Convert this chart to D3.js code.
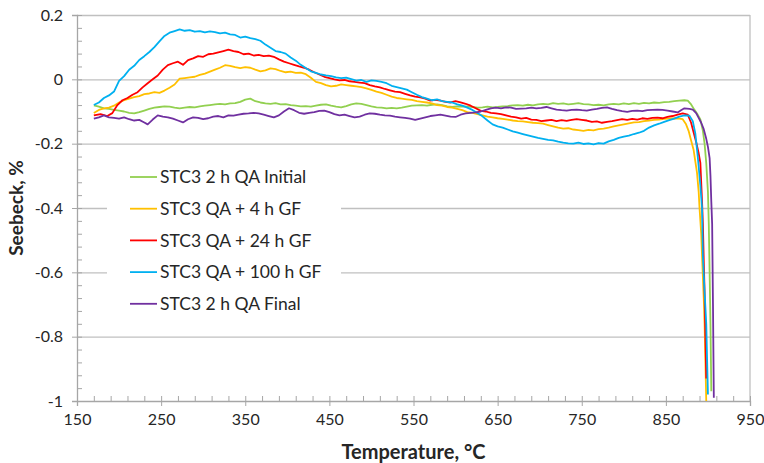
<!DOCTYPE html>
<html>
<head>
<meta charset="utf-8">
<script src="https://cdn.jsdelivr.net/npm/d3@7"></script>
<style>
  body { margin: 0; background: #fff; }
  text { font-family: Lato, "Open Sans", sans-serif; fill: #262626; }
</style>
</head>
<body>
<div id="chart"></div>
<script>
// Series names, colours and [temperature, seebeck] readings
const seriesNames = ["STC3 2 h QA Initial", "STC3 QA + 4 h GF", "STC3 QA + 24 h GF", "STC3 QA + 100 h GF", "STC3 2 h QA Final"];
const seriesColors = ["#92d050", "#ffc000", "#ff0000", "#00b0f0", "#7030a0"];

const initial = [[170,-0.081],[176,-0.085],[182,-0.090],[188,-0.092],[194,-0.095],[200,-0.097],[206,-0.100],[212,-0.104],[218,-0.106],[224,-0.102],[230,-0.097],[236,-0.092],[242,-0.088],[248,-0.086],[254,-0.084],[260,-0.085],[266,-0.088],[272,-0.090],[278,-0.088],[284,-0.086],[290,-0.087],[296,-0.084],[302,-0.082],[308,-0.080],[314,-0.078],[320,-0.076],[326,-0.078],[332,-0.075],[338,-0.074],[344,-0.070],[350,-0.063],[356,-0.060],[362,-0.068],[368,-0.072],[374,-0.075],[380,-0.076],[386,-0.074],[392,-0.078],[398,-0.077],[404,-0.080],[410,-0.082],[416,-0.084],[422,-0.083],[428,-0.085],[434,-0.082],[440,-0.079],[446,-0.078],[452,-0.082],[458,-0.085],[464,-0.087],[470,-0.083],[476,-0.078],[482,-0.075],[488,-0.076],[494,-0.080],[500,-0.084],[506,-0.087],[512,-0.088],[518,-0.090],[524,-0.089],[530,-0.090],[536,-0.088],[542,-0.085],[548,-0.082],[554,-0.081],[560,-0.080],[566,-0.082],[572,-0.079],[578,-0.078],[584,-0.080],[590,-0.084],[596,-0.086],[602,-0.084],[608,-0.085],[614,-0.084],[620,-0.086],[626,-0.088],[632,-0.087],[638,-0.085],[644,-0.087],[650,-0.086],[656,-0.084],[662,-0.083],[668,-0.081],[674,-0.080],[680,-0.082],[686,-0.079],[692,-0.081],[698,-0.078],[704,-0.076],[710,-0.078],[716,-0.074],[722,-0.076],[728,-0.075],[734,-0.078],[740,-0.076],[746,-0.074],[752,-0.077],[758,-0.078],[764,-0.080],[770,-0.079],[776,-0.081],[782,-0.078],[788,-0.076],[794,-0.078],[800,-0.075],[806,-0.077],[812,-0.074],[818,-0.076],[824,-0.073],[830,-0.075],[836,-0.072],[842,-0.073],[848,-0.071],[854,-0.070],[860,-0.068],[866,-0.066],[872,-0.065],[876,-0.066],[880,-0.078],[884,-0.095],[887,-0.106],[891,-0.125],[894,-0.160],[896,-0.200],[898,-0.260],[900,-0.350],[901,-0.450],[902,-0.600],[903,-0.760],[904,-0.970]];

const gf4 = [[170,-0.105],[176,-0.095],[182,-0.090],[188,-0.088],[194,-0.082],[200,-0.072],[206,-0.065],[212,-0.060],[218,-0.055],[224,-0.052],[230,-0.046],[236,-0.044],[242,-0.040],[248,-0.042],[254,-0.035],[260,-0.026],[266,-0.016],[272,0.002],[278,0.004],[284,0.006],[290,0.008],[296,0.014],[302,0.018],[308,0.024],[314,0.030],[320,0.036],[326,0.044],[332,0.042],[338,0.038],[344,0.035],[350,0.038],[356,0.036],[362,0.030],[368,0.025],[374,0.028],[380,0.034],[386,0.032],[392,0.026],[398,0.022],[404,0.024],[410,0.020],[416,0.021],[422,0.016],[428,0.005],[434,-0.008],[440,-0.012],[446,-0.018],[452,-0.022],[458,-0.020],[464,-0.016],[470,-0.018],[476,-0.020],[482,-0.022],[488,-0.024],[494,-0.028],[500,-0.033],[506,-0.038],[512,-0.042],[518,-0.048],[524,-0.054],[530,-0.058],[536,-0.060],[542,-0.062],[548,-0.064],[554,-0.068],[560,-0.070],[566,-0.072],[572,-0.075],[578,-0.080],[584,-0.082],[590,-0.086],[596,-0.088],[602,-0.092],[608,-0.096],[614,-0.102],[620,-0.104],[626,-0.108],[632,-0.112],[638,-0.116],[644,-0.118],[650,-0.121],[656,-0.123],[662,-0.125],[668,-0.128],[674,-0.130],[680,-0.131],[686,-0.133],[692,-0.135],[698,-0.136],[704,-0.138],[710,-0.142],[716,-0.146],[722,-0.150],[728,-0.153],[734,-0.152],[740,-0.156],[746,-0.158],[752,-0.160],[758,-0.157],[764,-0.159],[770,-0.155],[776,-0.153],[782,-0.150],[788,-0.146],[794,-0.143],[800,-0.140],[806,-0.137],[812,-0.134],[818,-0.133],[824,-0.130],[830,-0.128],[836,-0.126],[842,-0.125],[848,-0.123],[854,-0.122],[860,-0.121],[866,-0.122],[870,-0.124],[874,-0.140],[877,-0.160],[880,-0.190],[883,-0.220],[885,-0.255],[887,-0.290],[889,-0.350],[890,-0.400],[892,-0.480],[893,-0.550],[895,-0.680],[896,-0.760],[897,-0.880],[898,-1.000]];

const gf24 = [[170,-0.112],[178,-0.108],[186,-0.114],[192,-0.105],[198,-0.080],[204,-0.065],[210,-0.058],[216,-0.048],[222,-0.040],[228,-0.025],[234,-0.012],[240,0.000],[246,0.012],[252,0.030],[258,0.044],[264,0.050],[270,0.055],[276,0.045],[282,0.060],[288,0.065],[294,0.072],[300,0.070],[306,0.078],[312,0.080],[318,0.084],[324,0.088],[330,0.092],[336,0.088],[342,0.085],[348,0.078],[354,0.080],[360,0.074],[366,0.076],[372,0.072],[378,0.074],[384,0.070],[390,0.062],[396,0.055],[402,0.050],[408,0.045],[414,0.040],[420,0.036],[426,0.030],[432,0.022],[438,0.015],[444,0.008],[450,0.004],[456,0.000],[462,-0.003],[468,-0.002],[474,-0.006],[480,-0.008],[486,-0.010],[492,-0.012],[498,-0.018],[504,-0.022],[510,-0.025],[516,-0.030],[522,-0.034],[528,-0.038],[534,-0.040],[540,-0.045],[546,-0.050],[552,-0.054],[558,-0.056],[564,-0.060],[570,-0.066],[576,-0.064],[582,-0.066],[588,-0.070],[594,-0.072],[600,-0.068],[606,-0.072],[612,-0.076],[618,-0.082],[624,-0.090],[630,-0.098],[636,-0.100],[642,-0.104],[648,-0.106],[654,-0.108],[660,-0.112],[666,-0.116],[672,-0.118],[678,-0.122],[684,-0.120],[690,-0.125],[696,-0.126],[702,-0.130],[708,-0.128],[714,-0.126],[720,-0.130],[726,-0.127],[732,-0.129],[738,-0.126],[744,-0.124],[750,-0.126],[756,-0.128],[762,-0.132],[768,-0.131],[774,-0.135],[780,-0.132],[786,-0.130],[792,-0.127],[798,-0.124],[804,-0.126],[810,-0.123],[816,-0.125],[822,-0.121],[828,-0.123],[834,-0.120],[840,-0.119],[846,-0.121],[852,-0.117],[858,-0.114],[864,-0.110],[870,-0.106],[876,-0.110],[880,-0.135],[883,-0.165],[886,-0.195],[889,-0.230],[891,-0.260],[893,-0.380],[894,-0.450],[895,-0.560],[896,-0.660],[897,-0.800],[898,-0.930]];

const gf100 = [[170,-0.080],[176,-0.072],[182,-0.058],[188,-0.050],[194,-0.038],[200,-0.005],[206,0.010],[212,0.030],[218,0.042],[224,0.060],[230,0.072],[236,0.085],[242,0.100],[248,0.118],[254,0.135],[260,0.145],[266,0.150],[272,0.155],[278,0.151],[284,0.153],[290,0.148],[296,0.150],[302,0.146],[308,0.149],[314,0.147],[320,0.143],[326,0.145],[332,0.140],[338,0.138],[344,0.130],[350,0.133],[356,0.128],[362,0.125],[368,0.120],[374,0.108],[380,0.098],[386,0.088],[392,0.085],[398,0.080],[404,0.068],[410,0.058],[416,0.045],[422,0.035],[428,0.025],[434,0.020],[440,0.015],[446,0.012],[452,0.010],[458,0.006],[464,0.004],[470,0.005],[476,0.001],[482,-0.004],[488,-0.002],[494,-0.008],[500,-0.003],[506,-0.005],[512,-0.008],[518,-0.012],[524,-0.020],[530,-0.024],[536,-0.028],[542,-0.032],[548,-0.040],[554,-0.048],[560,-0.055],[566,-0.060],[572,-0.065],[578,-0.062],[584,-0.068],[590,-0.070],[596,-0.072],[602,-0.078],[608,-0.082],[614,-0.088],[620,-0.095],[626,-0.105],[632,-0.115],[638,-0.128],[644,-0.140],[650,-0.146],[656,-0.150],[662,-0.156],[668,-0.162],[674,-0.166],[680,-0.170],[686,-0.174],[692,-0.178],[698,-0.182],[704,-0.185],[710,-0.188],[716,-0.190],[722,-0.194],[728,-0.197],[734,-0.199],[740,-0.200],[746,-0.197],[752,-0.201],[758,-0.199],[764,-0.202],[770,-0.198],[776,-0.200],[782,-0.193],[788,-0.188],[794,-0.182],[800,-0.178],[806,-0.175],[812,-0.170],[818,-0.166],[824,-0.160],[830,-0.150],[836,-0.143],[842,-0.138],[848,-0.132],[854,-0.127],[860,-0.122],[866,-0.116],[872,-0.112],[878,-0.113],[882,-0.130],[885,-0.168],[888,-0.243],[891,-0.330],[893,-0.400],[894,-0.550],[896,-0.660],[898,-0.760],[899,-0.870],[900,-0.980]];

const final = [[170,-0.122],[176,-0.118],[182,-0.112],[188,-0.118],[194,-0.120],[200,-0.122],[206,-0.118],[212,-0.124],[218,-0.128],[224,-0.126],[230,-0.134],[234,-0.140],[240,-0.125],[246,-0.112],[252,-0.116],[258,-0.118],[264,-0.122],[270,-0.128],[276,-0.134],[282,-0.124],[288,-0.118],[294,-0.120],[300,-0.124],[306,-0.121],[312,-0.116],[318,-0.114],[324,-0.118],[330,-0.112],[336,-0.113],[342,-0.110],[348,-0.107],[354,-0.106],[360,-0.104],[366,-0.106],[372,-0.110],[378,-0.114],[384,-0.118],[390,-0.112],[396,-0.100],[402,-0.090],[408,-0.096],[414,-0.104],[420,-0.107],[426,-0.104],[432,-0.102],[438,-0.098],[444,-0.097],[450,-0.102],[456,-0.108],[462,-0.112],[468,-0.110],[474,-0.114],[480,-0.118],[486,-0.116],[492,-0.110],[498,-0.106],[504,-0.107],[510,-0.110],[516,-0.112],[522,-0.113],[528,-0.116],[534,-0.118],[540,-0.120],[546,-0.122],[552,-0.126],[558,-0.122],[564,-0.118],[570,-0.114],[576,-0.112],[582,-0.110],[588,-0.113],[594,-0.116],[600,-0.117],[606,-0.110],[612,-0.106],[618,-0.104],[624,-0.103],[630,-0.100],[636,-0.095],[642,-0.090],[648,-0.088],[654,-0.090],[660,-0.087],[666,-0.088],[672,-0.092],[678,-0.091],[684,-0.090],[690,-0.088],[696,-0.090],[702,-0.089],[708,-0.086],[714,-0.090],[720,-0.094],[726,-0.096],[732,-0.097],[738,-0.095],[744,-0.094],[750,-0.096],[756,-0.097],[762,-0.094],[768,-0.092],[774,-0.089],[780,-0.087],[786,-0.092],[792,-0.096],[798,-0.099],[804,-0.101],[810,-0.098],[816,-0.097],[822,-0.099],[828,-0.096],[834,-0.095],[840,-0.094],[846,-0.095],[852,-0.097],[858,-0.100],[864,-0.103],[868,-0.096],[872,-0.090],[878,-0.092],[882,-0.094],[886,-0.105],[889,-0.120],[892,-0.135],[895,-0.155],[898,-0.185],[900,-0.210],[902,-0.245],[903,-0.300],[904,-0.380],[905,-0.450],[906,-0.700],[907,-0.990]];

const allSeries = [initial, gf4, gf24, gf100, final];

const xTicks = [150, 250, 350, 450, 550, 650, 750, 850, 950];
const yTicks = [-1, -0.8, -0.6, -0.4, -0.2, 0, 0.2];
const yTickLabels = ["-1", "-0.8", "-0.6", "-0.4", "-0.2", "0", "0.2"];

// Layout
const W = 764, H = 463;
const margin = { top: 15, right: 14, bottom: 62, left: 77 },
      width = W - margin.left - margin.right,
      height = H - margin.top - margin.bottom;

const svg = d3.select("#chart").append("svg")
  .attr("width", W)
  .attr("height", H);

const g = svg.append("g")
  .attr("transform", `translate(${margin.left},${margin.top})`);

const x = d3.scaleLinear().domain([150, 950]).range([0, width]);
const y = d3.scaleLinear().domain([-1, 0.2]).range([height, 0]);

// Gridlines
g.append("g")
  .call(d3.axisLeft(y).tickValues(yTicks.filter(d => d > -1)).tickSize(-width).tickFormat(""))
  .call(s => s.select(".domain").remove())
  .selectAll("line").attr("stroke", "#c0c0c0").attr("stroke-width", 1.3);

// Right border
g.append("line")
  .attr("x1", width).attr("x2", width)
  .attr("y1", 0).attr("y2", height)
  .attr("stroke", "#c0c0c0").attr("stroke-width", 1.3);

// Minor ticks (inside)
g.append("g")
  .call(d3.axisLeft(y).tickValues(d3.range(-100, 21, 4).map(d => d / 100)).tickSize(-5).tickFormat(""))
  .call(s => s.select(".domain").remove())
  .selectAll("line").attr("stroke", "#a6a6a6");

g.append("g")
  .attr("transform", `translate(0,${height})`)
  .call(d3.axisBottom(x).tickValues(d3.range(150, 951, 20)).tickSize(-5).tickFormat(""))
  .call(s => s.select(".domain").remove())
  .selectAll("line").attr("stroke", "#a6a6a6");

// Main axes
const yAxis = g.append("g")
  .call(d3.axisLeft(y).tickValues(yTicks).tickSize(5).tickPadding(9)
    .tickFormat((d, i) => yTickLabels[i]));
yAxis.select(".domain").attr("stroke", "#a6a6a6").attr("stroke-width", 1.3);
yAxis.selectAll("line").attr("stroke", "#a6a6a6");
yAxis.selectAll("text").style("font-size", "16px").attr("fill", "#262626");

const xAxis = g.append("g")
  .attr("transform", `translate(0,${height})`)
  .call(d3.axisBottom(x).tickValues(xTicks).tickSize(5).tickPadding(8));
xAxis.select(".domain").attr("stroke", "#a6a6a6").attr("stroke-width", 1.3);
xAxis.selectAll("line").attr("stroke", "#a6a6a6");
xAxis.selectAll("text").style("font-size", "16px").attr("fill", "#262626");

// Lines
const line = d3.line()
  .x(d => x(d[0]))
  .y(d => y(d[1]));

g.append("g").selectAll("path")
  .data(allSeries)
  .join("path")
  .attr("d", line)
  .attr("fill", "none")
  .attr("stroke", (d, i) => seriesColors[i])
  .attr("stroke-width", 1.8)
  .attr("stroke-linejoin", "round");

// Legend
const legend = svg.append("g");
legend.append("rect")
  .attr("x", 107).attr("y", 160)
  .attr("width", 234).attr("height", 160)
  .attr("fill", "#fff");

const item = legend.selectAll("g.item")
  .data(seriesNames)
  .join("g")
  .attr("class", "item")
  .attr("transform", (d, i) => `translate(130,${177 + i * 31.7})`);

item.append("line")
  .attr("x1", 0).attr("x2", 27)
  .attr("stroke", (d, i) => seriesColors[i])
  .attr("stroke-width", 1.8);

item.append("text")
  .attr("x", 30)
  .attr("dy", "0.35em")
  .style("font-size", "17.5px")
  .text(d => d);

// Axis titles
svg.append("text")
  .attr("transform", `translate(23,${margin.top + height / 2}) rotate(-90)`)
  .attr("text-anchor", "middle")
  .style("font-size", "19px")
  .style("font-weight", "bold")
  .text("Seebeck, %");

svg.append("text")
  .attr("x", margin.left + width / 2)
  .attr("y", 459)
  .attr("text-anchor", "middle")
  .style("font-size", "20px")
  .style("font-weight", "bold")
  .text("Temperature, °C");
</script>
</body>
</html>
